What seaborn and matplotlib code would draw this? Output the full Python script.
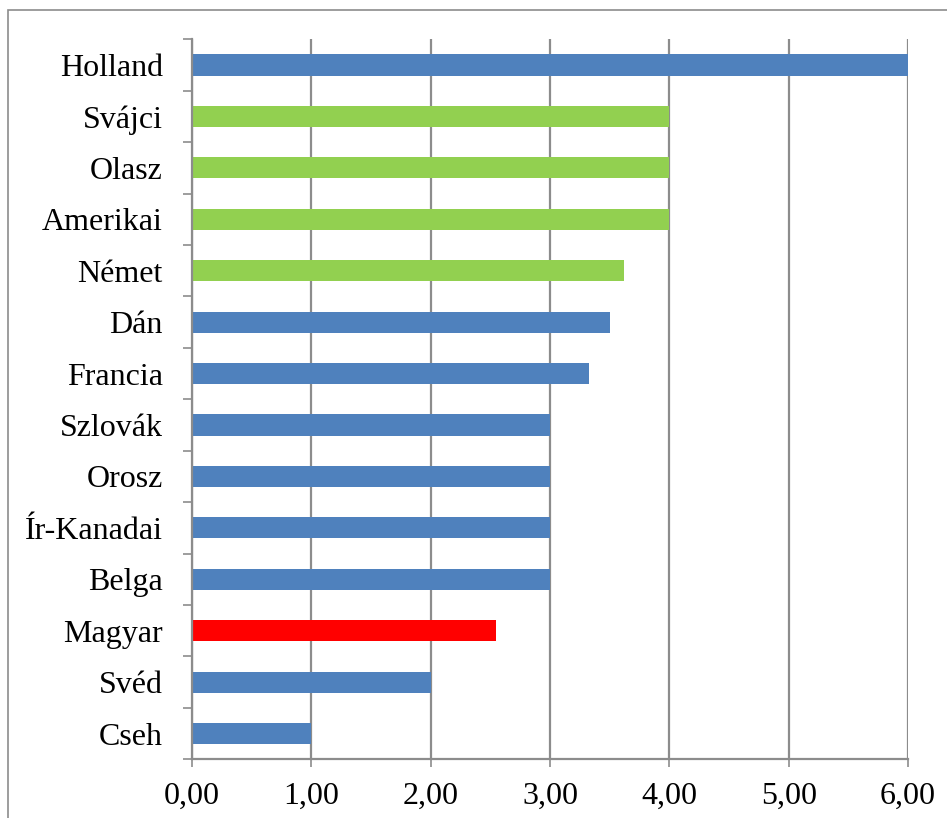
import matplotlib
matplotlib.use("Agg")
import matplotlib.pyplot as plt
import matplotlib.ticker as mticker
from matplotlib.patches import Rectangle
import seaborn as sns
import pandas as pd
import numpy as np

categories = ["Holland", "Svájci", "Olasz", "Amerikai", "Német", "Dán", "Francia",
              "Szlovák", "Orosz", "Ír-Kanadai", "Belga", "Magyar", "Svéd", "Cseh"]
values = [6.00, 4.00, 4.00, 4.00, 3.62, 3.50, 3.33,
          3.00, 3.00, 3.00, 3.00, 2.55, 2.00, 1.00]
groups = ["other", "green", "green", "green", "green", "other", "other",
          "other", "other", "other", "other", "hu", "other", "other"]
x_ticks = [0, 1, 2, 3, 4, 5, 6]

group_colors = {"other": "#4F81BD", "green": "#92D050", "hu": "#FF0000"}

df = pd.DataFrame({"country": categories, "value": values, "group": groups})

sns.set_theme(style="white")
plt.rcParams["font.family"] = ["Liberation Serif", "DejaVu Serif"]

fig = plt.figure(figsize=(9.47, 8.18), dpi=100)
ax = fig.add_axes([192 / 947, 1 - 759.3 / 818, (908 - 192) / 947, (759.3 - 39.3) / 818])

sns.barplot(data=df, x="value", y="country", hue="group", palette=group_colors,
            order=categories, orient="h", width=0.41, dodge=False, legend=False,
            saturation=1, linewidth=0, ax=ax, zorder=3)

ax.set_xlim(0, 6)
ax.set_ylim(len(categories) - 0.5, -0.5)
ax.set_xlabel("")
ax.set_ylabel("")

ax.xaxis.set_major_locator(mticker.FixedLocator(x_ticks))
ax.xaxis.set_major_formatter(mticker.FuncFormatter(lambda v, p: f"{v:.2f}".replace(".", ",")))
ax.grid(axis="x", color="#8c8c8c", linewidth=1.6, zorder=0)
ax.set_axisbelow(True)

# y ticks: labels at centers, tick marks at boundaries
ax.set_yticks(np.arange(len(categories)))
ax.set_yticklabels(categories)
ax.set_yticks(np.arange(len(categories) + 1) - 0.5, minor=True)
ax.tick_params(axis="y", which="major", length=0, pad=21, labelsize=23, colors="black")
ax.tick_params(axis="y", which="minor", length=6.5, width=1.2, color="#8c8c8c", left=True)
ax.tick_params(axis="x", which="major", length=5.5, width=1.2, color="#8c8c8c",
               bottom=True, pad=11, labelsize=23, labelcolor="black")

for s in ["top", "right"]:
    ax.spines[s].set_visible(False)
for s in ["left", "bottom"]:
    ax.spines[s].set_color("#8c8c8c")
    ax.spines[s].set_linewidth(1.6)
    ax.spines[s].set_zorder(4)

fig.patches.append(Rectangle((8 / 947, -0.1), 1.2, 1 - 10 / 818 + 0.1,
                             transform=fig.transFigure, fill=False,
                             edgecolor="#8c8c8c", linewidth=1.2))

fig.savefig("out.png", dpi=100, facecolor="white")
